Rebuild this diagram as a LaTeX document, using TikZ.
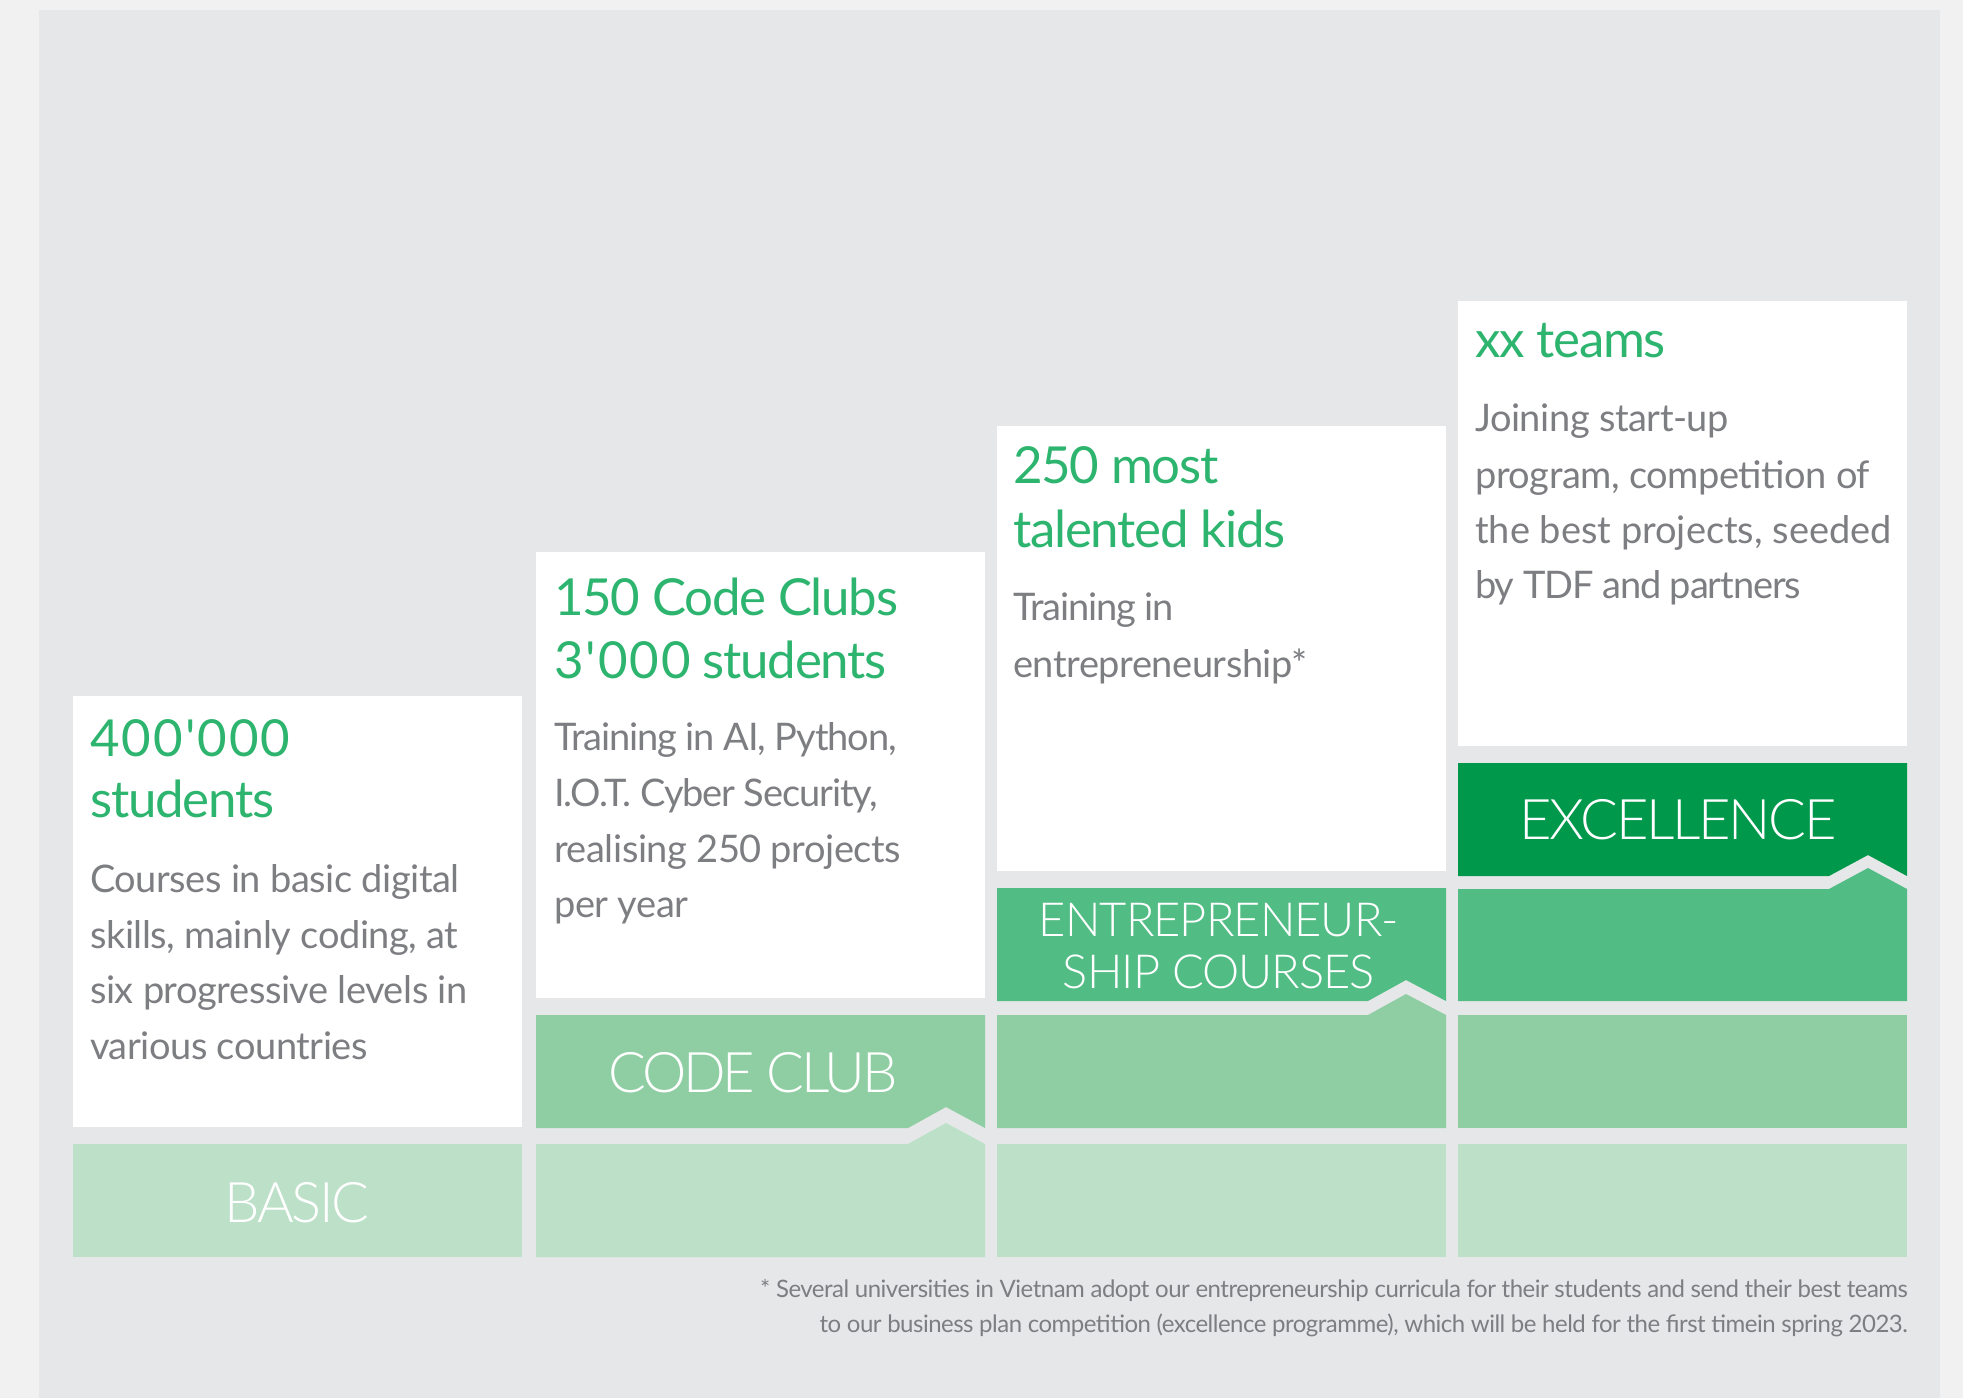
\documentclass[tikz,border=0pt]{standalone}
\usepackage{fontspec}
\setmainfont{Lato}
\newfontfamily\bodyf{Lato}[LetterSpace=-1.2]
\newfontfamily\bodytf{Lato}[LetterSpace=-3]
\newfontfamily\bodywf{Lato}
\newfontfamily\titlef{Lato}[LetterSpace=-2.5]
\newfontfamily\titledf{Lato}[LetterSpace=4]
\newfontfamily\labf{Lato Light}[LetterSpace=-4]
\newfontfamily\labcf{Lato Light}[LetterSpace=-6]
\newfontfamily\labsf{Lato Light}[LetterSpace=-2]
\newfontfamily\footf{Lato}[LetterSpace=-2.1]
\definecolor{outerbg}{HTML}{F1F1F1}
\definecolor{panel}{HTML}{E6E7E8}
\definecolor{lvA}{HTML}{BDE0C8}
\definecolor{lvB}{HTML}{8FCEA3}
\definecolor{lvC}{HTML}{51BC84}
\definecolor{lvD}{HTML}{00984B}
\definecolor{tgreen}{HTML}{2DB46E}
\definecolor{tgray}{HTML}{7D7E82}
\tikzset{
  titletext/.style={anchor=base west, inner sep=0pt, text=tgreen, font=\titlef\fontsize{51}{63}\selectfont},
  bodytext/.style={anchor=base west, inner sep=0pt, text=tgray, font=\bodyf\fontsize{38}{56}\selectfont},
  bodytight/.style={bodytext, font=\bodytf\fontsize{38}{56}\selectfont},
  bodywide/.style={bodytext, font=\bodywf\fontsize{38}{56}\selectfont},
  labtext/.style={anchor=base, inner sep=0pt, text=white, font=\labf\fontsize{56}{60}\selectfont},
  labsmall/.style={anchor=base, inner sep=0pt, text=white, font=\labsf\fontsize{47}{52}\selectfont},
  foottext/.style={anchor=base east, inner sep=0pt, text=tgray, font=\footf\fontsize{24}{34}\selectfont},
}
\begin{document}
\begin{tikzpicture}[x=1pt,y=-1pt]
\useasboundingbox (0,0) rectangle (1963,1398);
\fill[outerbg] (0,0) rectangle (1963,1398);
\fill[panel] (39,10) rectangle (1940,1398);
% white boxes
\fill[white] (73,696) rectangle (522,1127);
\fill[white] (536,552) rectangle (985,998);
\fill[white] (997,426) rectangle (1446,871);
\fill[white] (1458,301) rectangle (1907,746);
% column 1
\fill[lvA] (73,1144) rectangle (522,1257);
% column 2
\fill[lvA] (536,1144) -- (908,1144) -- (946,1123) -- (985,1144) -- (985,1257) -- (536,1257) -- cycle;
\fill[lvB] (536,1015) -- (985,1015) -- (985,1128) -- (946,1107) -- (908,1128) -- (536,1128) -- cycle;
% column 3
\fill[lvA] (997,1144) rectangle (1446,1257);
\fill[lvB] (997,1015) -- (1368,1015) -- (1406,994) -- (1446,1015) -- (1446,1128) -- (997,1128) -- cycle;
\fill[lvC] (997,888) -- (1446,888) -- (1446,1001) -- (1406,980) -- (1368,1001) -- (997,1001) -- cycle;
% column 4
\fill[lvA] (1458,1144) rectangle (1907,1257);
\fill[lvB] (1458,1015) rectangle (1907,1128);
\fill[lvC] (1458,889) -- (1829,889) -- (1868,868) -- (1907,889) -- (1907,1001) -- (1458,1001) -- cycle;
\fill[lvD] (1458,763) -- (1907,763) -- (1907,876) -- (1868,855) -- (1829,876) -- (1458,876) -- cycle;
% labels
\node[labtext] (basic) at (297,1222) {BASIC};
\node[labtext, font=\labcf\fontsize{56}{60}\selectfont] (codeclub) at (753,1092) {CODE CLUB};
\node[labsmall] (entr1) at (1219,936) {ENTREPRENEUR-};
\node[labsmall] (entr2) at (1219,988) {SHIP COURSES};
\node[labtext] (excel) at (1678,839) {EXCELLENCE};
% column 1 text
\node[titletext] (c1t1) at (90,756) {\titledf 400'000};
\node[titletext] (c1t2) at (90,817) {students};
\node[bodytext] (c1b1) at (90,892) {Courses in basic digital};
\node[bodytext] (c1b2) at (90,948) {skills, mainly coding, at};
\node[bodytext] (c1b3) at (90,1003) {six progressive levels in};
\node[bodytext] (c1b4) at (90,1059) {various countries};
% column 2 text
\node[titletext] (c2t1) at (554,615) {150 Code Clubs};
\node[titletext] (c2t2) at (554,678) {{\titledf 3'000} students};
\node[bodytight] (c2b1) at (554,750) {Training in AI, Python,};
\node[bodytight] (c2b2) at (554,806) {I.O.T. Cyber Security,};
\node[bodytext] (c2b3) at (554,862) {realising 250 projects};
\node[bodytext] (c2b4) at (554,917) {per year};
% column 3 text
\node[titletext] (c3t1) at (1013,483) {250 most};
\node[titletext] (c3t2) at (1013,547) {talented kids};
\node[bodytight] (c3b1) at (1013,620) {Training in};
\node[bodytext] (c3b2) at (1013,677) {entrepreneurship*};
% column 4 text
\node[titletext] (c4t1) at (1475,357) {xx teams};
\node[bodytext] (c4b1) at (1475,431) {Joining start-up};
\node[bodytext] (c4b2) at (1475,488) {program, competition of};
\node[bodywide] (c4b3) at (1475,543) {the best projects, seeded};
\node[bodytight] (c4b4) at (1475,598) {by TDF and partners};
% footnote
\node[foottext] (fn1) at (1908,1297) {* Several universities in Vietnam adopt our entrepreneurship curricula for their students and send their best teams};
\node[foottext] (fn2) at (1908,1332) {to our business plan competition (excellence programme), which will be held for the first timein spring 2023.};
\end{tikzpicture}
\end{document}
